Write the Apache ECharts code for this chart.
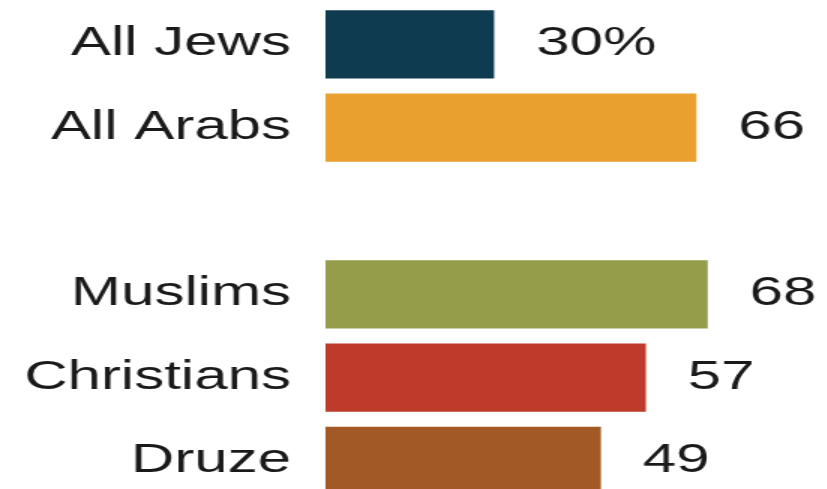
<!DOCTYPE html>
<html>
<head>
<meta charset="utf-8">
<script src="https://cdn.jsdelivr.net/npm/echarts@6/dist/echarts.min.js"></script>
<style>
html,body{margin:0;padding:0;background:#fff;overflow:hidden;}
#chart{width:552px;height:489px;transform:scaleX(1.5);transform-origin:0 0;}
</style>
</head>
<body>
<div id="chart"></div>
<script>
const categories = ['All Jews', 'All Arabs', '', 'Muslims', 'Christians', 'Druze'];
const values = [30, 66, null, 68, 57, 49];
const colors = ['#0F3B50', '#E9A02E', '#ffffff', '#959C4A', '#BE3A2A', '#A35925'];

const chart = echarts.init(document.getElementById('chart'), null, {renderer: 'canvas'});
const font = "'Liberation Sans', Arial, sans-serif";
chart.setOption({
  animation: false,
  grid: {left: 217, top: 2.7, width: 374.7, height: 500, containLabel: false, outerBoundsMode: 'none'},
  xAxis: {
    type: 'value', min: 0, max: 100, show: false
  },
  yAxis: {
    type: 'category', data: categories, inverse: true,
    axisLine: {show: false}, axisTick: {show: false}, splitLine: {show: false},
    axisLabel: {margin: 23, fontSize: 40, color: '#1a1a1a', fontFamily: font}
  },
  series: [{
    type: 'bar',
    barCategoryGap: '18%',
    data: values.map((v, i) => ({value: v, itemStyle: {color: colors[i]}})),
    label: {
      show: true, position: 'right', distance: 28,
      fontSize: 40, color: '#1a1a1a', fontFamily: font,
      formatter: p => (p.value == null ? '' : (p.dataIndex === 0 ? p.value + '%' : String(p.value)))
    }
  }]
});
</script>
</body>
</html>
